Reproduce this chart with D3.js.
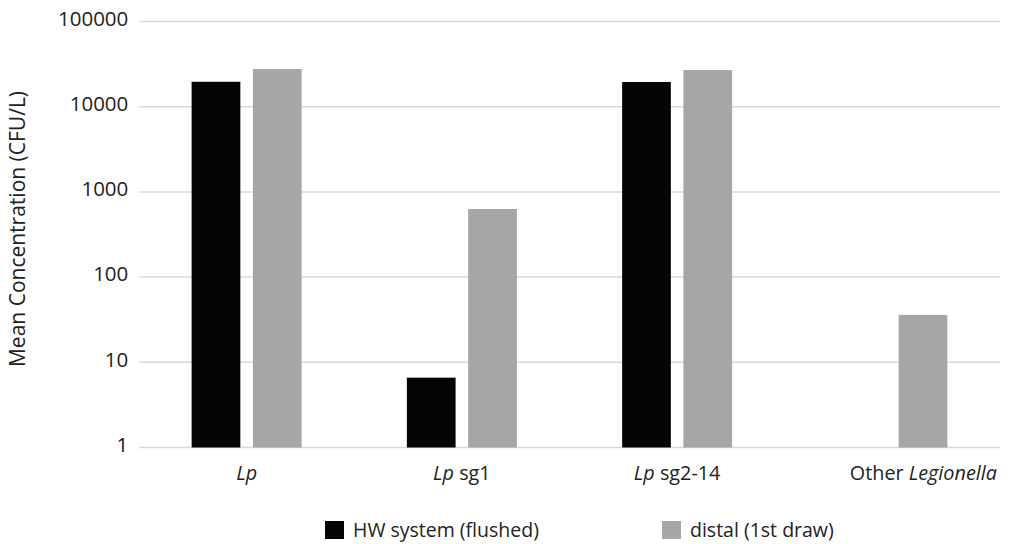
<!DOCTYPE html>
<html><head><meta charset="utf-8">
<script src="https://cdn.jsdelivr.net/npm/d3@7"></script>
<style>
body{margin:0;background:#fff;}
text{font-family:"Open Sans",sans-serif;fill:#222;}
</style></head>
<body><svg id="c" width="1009" height="544"></svg>
<script>
const categories = [
  [{t:"Lp",i:true}],
  [{t:"Lp",i:true},{t:" sg1",i:false}],
  [{t:"Lp",i:true},{t:" sg2-14",i:false}],
  [{t:"Other ",i:false},{t:"Legionella",i:true}]
];
const seriesNames = ["HW system (flushed)", "distal (1st draw)"];
const hwFlushed = [19600, 6.6, 19500, null];
const distalFirst = [27700, 630, 26900, 36];
const yTicks = [1, 10, 100, 1000, 10000, 100000];
const colors = ["#050505", "#a6a6a6"];

const svg = d3.select("#c");
const m = {l:139, r:1000, t:21.5, b:447.5};
const x = d3.scaleBand().domain(d3.range(categories.length)).range([m.l, m.r]).paddingInner(0).paddingOuter(0);
const x1 = d3.scaleBand().domain([0,1]).range([0, 110]).paddingInner(0.205);
const y = d3.scaleLog().domain([1, 100000]).range([m.b, m.t]);

// gridlines
svg.append("g").selectAll("line").data(yTicks).join("line")
  .attr("x1", m.l).attr("x2", m.r)
  .attr("y1", d=>y(d)).attr("y2", d=>y(d))
  .attr("stroke", "#d9d9d9").attr("stroke-width", 1.5);

// y axis labels
const yAxis = d3.axisLeft(y).tickValues(yTicks).tickFormat(d3.format("d")).tickSize(0).tickPadding(10.7);
const ga = svg.append("g").attr("transform", `translate(${m.l},0)`).call(yAxis);
ga.select(".domain").remove();
ga.selectAll("text").attr("font-size", 20.5).attr("font-family","Open Sans").attr("fill","#222").attr("dy","0.18em");

// bars
const series = [hwFlushed, distalFirst];
series.forEach((vals, si) => {
  svg.append("g").selectAll("rect").data(vals.map((v,i)=>({v,i})).filter(d=>d.v!=null)).join("rect")
    .attr("x", d => x(d.i) + (x.bandwidth()-110)/2 + x1(si))
    .attr("width", x1.bandwidth())
    .attr("y", d => y(d.v))
    .attr("height", d => y(1) - y(d.v))
    .attr("fill", colors[si]);
});

// category labels
const labelShift = [0, 0, 0, 31];
const cl = svg.append("g").selectAll("text").data(categories).join("text")
  .attr("x", (d,i)=>x(i)+x.bandwidth()/2 + labelShift[i]).attr("y", 480)
  .attr("text-anchor","middle").attr("font-size", 19.8);
cl.each(function(parts){
  d3.select(this).selectAll("tspan").data(parts).join("tspan")
    .text(p=>p.t).attr("font-style", p=>p.i?"italic":"normal");
});

// y title
svg.append("text").attr("transform","translate(25,229) rotate(-90)")
  .attr("text-anchor","middle").attr("font-size",21).text("Mean Concentration (CFU/L)");

// legend
const lx = [325, 662];
const lg = svg.append("g").selectAll("g").data(seriesNames).join("g")
  .attr("transform",(d,i)=>`translate(${lx[i]},521)`);
lg.append("rect").attr("width",19).attr("height",18).attr("fill",(d,i)=>colors[i]);
lg.append("text").attr("x",28).attr("y",16).attr("font-size",19.5).text(d=>d);
</script></body></html>
